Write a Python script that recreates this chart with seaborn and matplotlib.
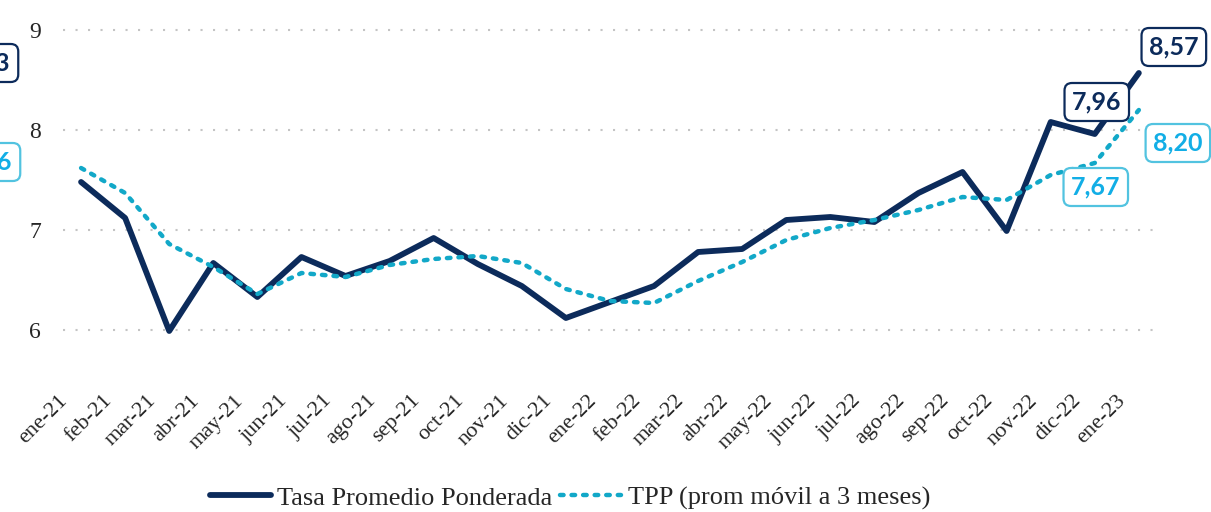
import numpy as np
import pandas as pd
import matplotlib
matplotlib.use("Agg")
import matplotlib.pyplot as plt
import matplotlib.transforms as mtransforms
import seaborn as sns

# data
months = ["ene-21", "feb-21", "mar-21", "abr-21", "may-21", "jun-21", "jul-21",
          "ago-21", "sep-21", "oct-21", "nov-21", "dic-21", "ene-22", "feb-22",
          "mar-22", "abr-22", "may-22", "jun-22", "jul-22", "ago-22", "sep-22",
          "oct-22", "nov-22", "dic-22", "ene-23"]
tasa = [7.48, 7.12, 5.99, 6.67, 6.33, 6.73, 6.54, 6.69, 6.92, 6.66, 6.44, 6.12,
        6.28, 6.44, 6.78, 6.81, 7.10, 7.13, 7.08, 7.37, 7.58, 6.99, 8.08, 7.96, 8.57]
tpp = [7.62, 7.37, 6.86, 6.63, 6.36, 6.57, 6.53, 6.65, 6.71, 6.74, 6.67, 6.41,
       6.29, 6.27, 6.49, 6.68, 6.90, 7.02, 7.10, 7.20, 7.33, 7.30, 7.55, 7.67, 8.20]

navy = "#0c2b5b"
teal = "#12a8c8"
teal_txt = "#12aee6"
teal_box = "#52c3e0"

df = pd.DataFrame({"mes": np.arange(len(months)), "tasa": tasa, "tpp": tpp})

sns.set_style("white")
plt.rcParams["font.family"] = ["Liberation Serif", "DejaVu Serif"]

fig = plt.figure(figsize=(12.11, 5.12), dpi=100)
ax = fig.add_axes([63 / 1211, 1 - 355 / 512, (1160 - 63) / 1211, 330 / 512])

sns.lineplot(data=df, x="mes", y="tasa", ax=ax, color=navy, lw=4.2,
             label="Tasa Promedio Ponderada", legend=False)
sns.lineplot(data=df, x="mes", y="tpp", ax=ax, color=teal, lw=3.2,
             linestyle=(0, (0.8, 1.8)), dash_capstyle="round",
             label="TPP (prom móvil a 3 meses)", legend=False)

ax.set_xlim(-0.41, 24.48)
ax.set_ylim(5.75, 9.05)
ax.set_yticks([6, 7, 8, 9])
ax.set_yticklabels(["6", "7", "8", "9"], fontsize=17)
ax.yaxis.grid(True, color="#c4c4c4", linestyle=(0, (1, 5)), lw=1.5)
ax.xaxis.grid(False)
for s in ax.spines.values():
    s.set_visible(False)
ax.tick_params(axis="y", length=0, pad=16)
ax.tick_params(axis="x", length=0, pad=26)
ax.set_xlabel("")
ax.set_ylabel("")

ax.set_xticks(df["mes"])
ax.set_xticklabels(months, rotation=45, ha="right", rotation_mode="anchor", fontsize=16)
shift = mtransforms.ScaledTranslation(-23 / 100, 0, fig.dpi_scale_trans)
for lab in ax.get_xticklabels():
    lab.set_transform(lab.get_transform() + shift)

# value labels
def box_label(i, val, txt, dx, dy, fg, edge):
    ax.annotate(txt, xy=(i, val), xytext=(dx, dy), textcoords="offset pixels",
                ha="center", va="center", fontsize=18, fontweight="bold",
                family="Lato", color=fg,
                bbox=dict(boxstyle="round,pad=0.3,rounding_size=0.3",
                          fc="white", ec=edge, lw=1.6))

box_label(24, tasa[24], "8,57", 35, 26, navy, navy)
box_label(23, tasa[23], "7,96", 2, 32, navy, navy)
box_label(24, tpp[24], "8,20", 39, -33, teal_txt, teal_box)
box_label(23, tpp[23], "7,67", 1, -24, teal_txt, teal_box)

# labels cut off at the left edge, as in the reference
fig.text(-14 / 1211, 1 - 63 / 512, "7,83", ha="center", va="center", fontsize=18,
         fontweight="bold", family="Lato", color=navy,
         bbox=dict(boxstyle="round,pad=0.3,rounding_size=0.3", fc="white", ec=navy, lw=1.6))
fig.text(-12 / 1211, 1 - 162 / 512, "7,36", ha="center", va="center", fontsize=18,
         fontweight="bold", family="Lato", color=teal_txt,
         bbox=dict(boxstyle="round,pad=0.3,rounding_size=0.3", fc="white", ec=teal_box, lw=1.6))

handles, labels = ax.get_legend_handles_labels()
fig.legend(handles, labels, loc="center", bbox_to_anchor=(570 / 1211, 1 - 498 / 512),
           ncol=2, frameon=False, handlelength=2.3, columnspacing=0.3,
           handletextpad=0.25, prop={"family": "Liberation Serif", "size": 19})

fig.savefig("out.png", dpi=100)
